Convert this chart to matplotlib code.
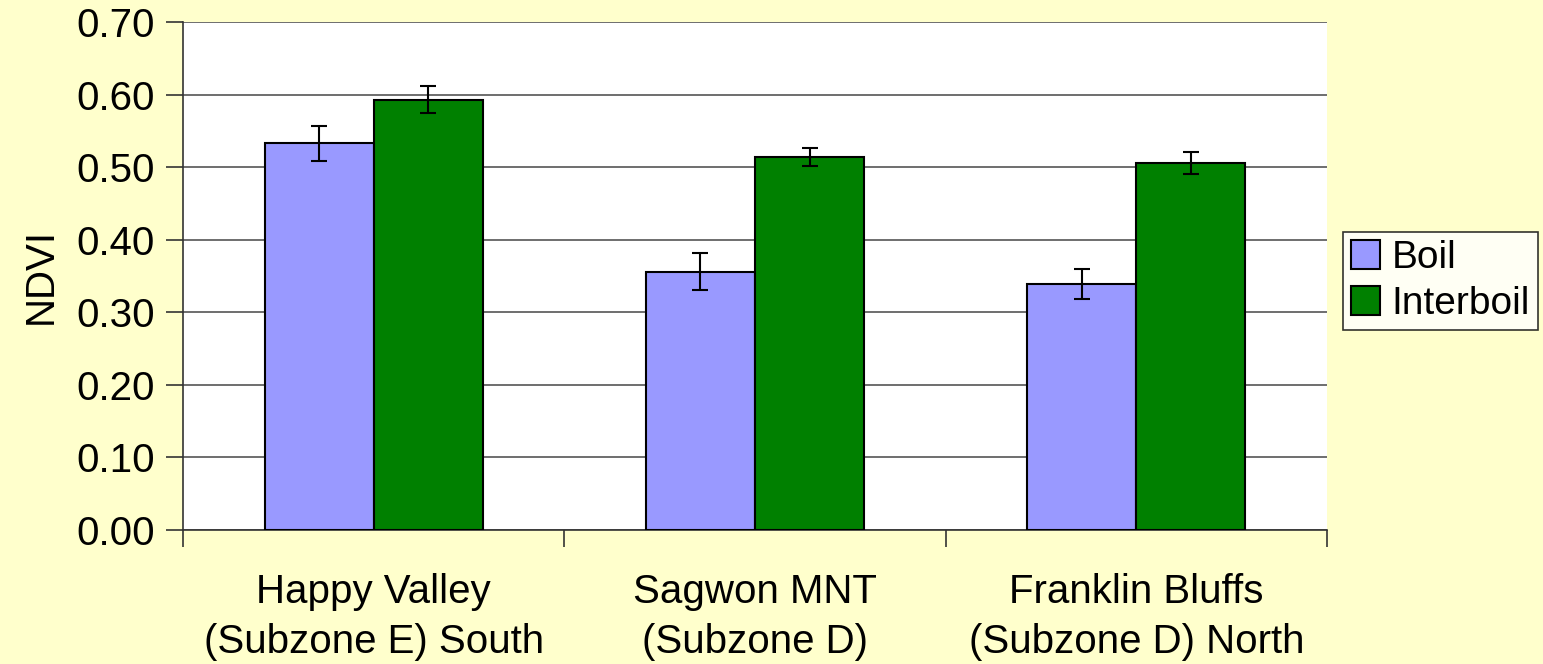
import numpy as np
import matplotlib.pyplot as plt
from matplotlib.ticker import FixedLocator, NullFormatter

plt.rcParams['font.family'] = ['Liberation Sans', 'DejaVu Sans']

sites = ["Happy Valley\n(Subzone E) South", "Sagwon MNT\n(Subzone D)", "Franklin Bluffs\n(Subzone D) North"]
boil = [0.533, 0.356, 0.339]
boil_err = [0.024, 0.025, 0.021]
interboil = [0.593, 0.514, 0.506]
interboil_err = [0.019, 0.012, 0.015]
yticks = [0.0, 0.1, 0.2, 0.3, 0.4, 0.5, 0.6, 0.7]

bg = "#FFFFCC"
fs = 29

Fig = plt.figure(figsize=(15.43, 6.64), dpi=100, facecolor=bg)
Ax = Fig.add_axes([0.1186, 0.2018, 0.860 - 0.1186, 0.9669 - 0.2018])
Ax.set_facecolor("white")

x = np.arange(len(sites))
w = 0.286
ekw = dict(ecolor="black", elinewidth=1.5, capsize=6, capthick=1.5)
Ax.bar(x - w/2, boil, w, yerr=boil_err, color="#9999FF", edgecolor="black",
       linewidth=1.5, label="Boil", error_kw=ekw, zorder=3)
Ax.bar(x + w/2, interboil, w, yerr=interboil_err, color="#008000", edgecolor="black",
       linewidth=1.5, label="Interboil", error_kw=ekw, zorder=3)

Ax.set_xlim(-0.5, 2.5)
Ax.set_ylim(0, 0.7)
Ax.set_yticks(yticks)
Ax.set_yticklabels(["%.2f" % v for v in yticks], fontsize=fs)
Ax.yaxis.grid(True, color="#555555", lw=1.2, zorder=0)

Ax.xaxis.set_major_locator(FixedLocator([-0.5, 0.5, 1.5, 2.5]))
Ax.xaxis.set_major_formatter(NullFormatter())
Ax.xaxis.set_minor_locator(FixedLocator(x))
Ax.set_xticklabels(sites, minor=True, fontsize=fs, linespacing=1.4)
Ax.tick_params(axis="x", which="minor", length=0, pad=31)
Ax.tick_params(axis="x", which="major", length=12, width=1.2, color="#333333")
Ax.tick_params(axis="y", length=12, width=1.2, color="#333333", pad=8)

for s in ["top", "right"]:
    Ax.spines[s].set_visible(False)
for s in ["left", "bottom"]:
    Ax.spines[s].set_color("#333333")
    Ax.spines[s].set_linewidth(1.2)

Ax.set_ylabel("NDVI", fontsize=fs, labelpad=12)

leg = Ax.legend(loc="center left", bbox_to_anchor=(1.004, 0.49), fontsize=28,
                frameon=True, fancybox=False, edgecolor="black", facecolor="white",
                handlelength=0.75, handleheight=0.75, handletextpad=0.3,
                borderpad=0.2, labelspacing=0.25, borderaxespad=0.3)
leg.get_frame().set_linewidth(1.2)

Fig.savefig("out.png", dpi=100, facecolor=bg)
